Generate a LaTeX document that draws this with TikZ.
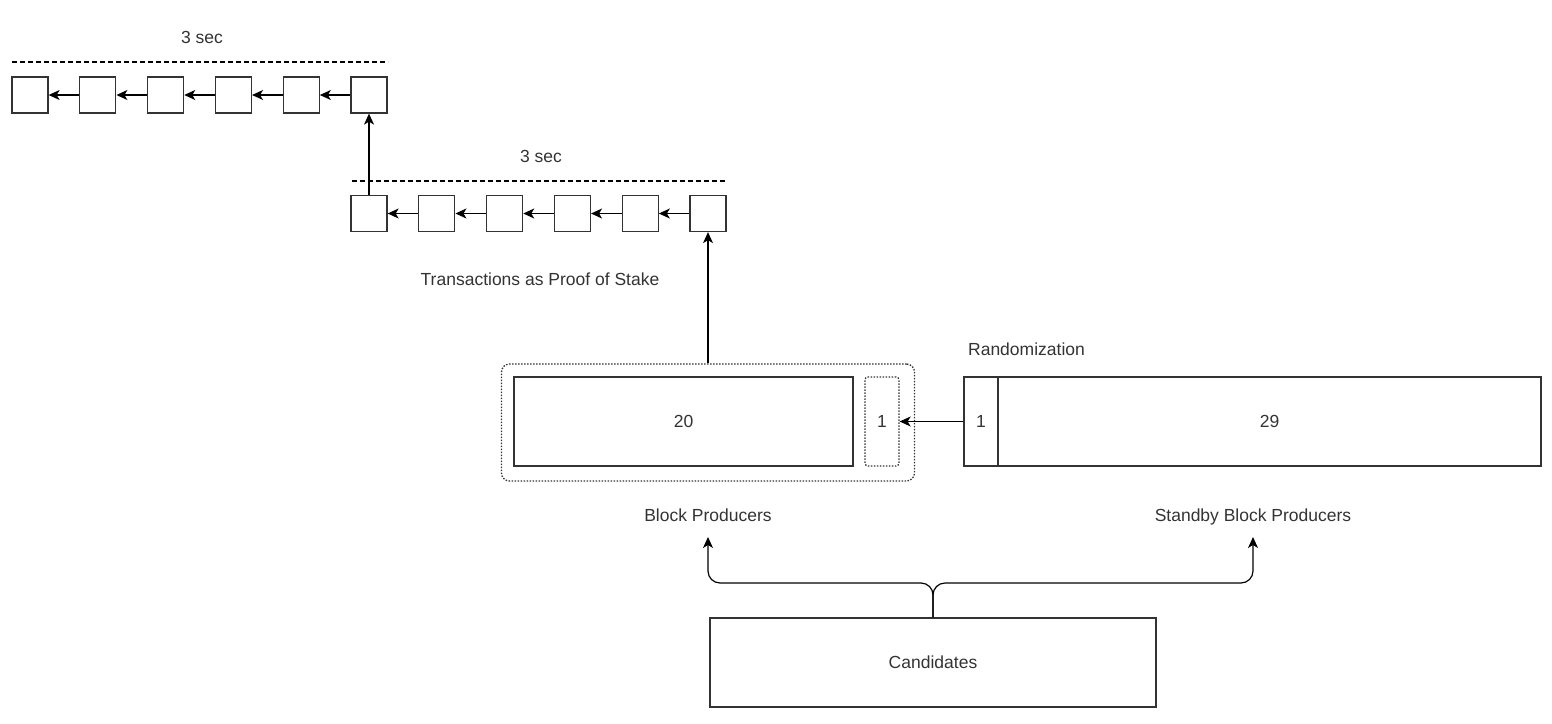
\documentclass[tikz,border=0pt]{standalone}
\usepackage{fontspec}
\setmainfont{Liberation Sans}
\usetikzlibrary{arrows.meta,positioning}

\tikzset{
  blk/.style={draw=black!80, line width=1.3pt, minimum width=36pt, minimum height=36pt, inner sep=0pt},
  slot/.style={draw=black!80, line width=1.3pt, minimum height=89pt, inner sep=0pt, text=black!80},
  dots/.style={line width=1.3pt, dash pattern=on 1.5pt off 1.5pt},
  lbl/.style={text=black!80, inner sep=0pt, anchor=base},
  link/.style={-{Stealth[length=11pt,width=10pt,inset=3pt]}, line width=1.2pt},
  timeline/.style={line width=1.2pt, dash pattern=on 5pt off 3pt},
}

\begin{document}
\begin{tikzpicture}[x=1pt, y=-1pt, font=\fontsize{17.5}{21}\selectfont]
  \useasboundingbox (0,0) rectangle (1552,723);

  % older chain
  \node[lbl] (secA) at (202,43) {3 sec};
  \draw[timeline] (12,62) -- (388,62);
  \foreach \i in {1,...,6}
    \node[blk] (a\i) at ({30+67.8*(\i-1)},95) {};
  \foreach \i [count=\j from 2] in {1,...,5}
    \draw[link] (a\j) -- (a\i);

  % newer chain
  \node[lbl] (secB) at (541,162) {3 sec};
  \draw[timeline] (352,181) -- (727,181);
  \foreach \i in {1,...,6}
    \node[blk] (b\i) at ({369+67.8*(\i-1)},213.5) {};
  \foreach \i [count=\j from 2] in {1,...,5}
    \draw[link] (b\j) -- (b\i);
  \draw[link] (b1) -- (a6);

  \node[lbl] (tx) at (540,285) {Transactions as Proof of Stake};

  % producers
  \node[draw=black!80, dots, rounded corners=8pt, minimum width=413pt,
        minimum height=117pt] (grp) at (708,422.5) {};
  \node[slot, minimum width=339pt] (bp20) at (683.5,421.5) {20};
  \node[slot, dots, rounded corners=3pt, minimum width=34pt] (bp1) at (882,421.5) {1};
  \draw[link] (grp.north) -- (b6.south);

  % standby producers
  \node[lbl] (rnd) at (1026.5,355) {Randomization};
  \node[slot, minimum width=34pt] (sb1) at (981,421.5) {1};
  \node[slot, minimum width=543pt] (sb29) at (1269.5,421.5) {29};
  \draw[link] (sb1) -- (bp1);

  \node[lbl] (bpl) at (708,521) {Block Producers};
  \node[lbl] (sbl) at (1253,521) {Standby Block Producers};

  % candidates split in two
  \node[slot, minimum width=446pt] (cand) at (933,662.5) {Candidates};
  \coordinate (fork) at (933,583);
  \draw[link, rounded corners=12pt] (cand.north) -- (fork) -| ([yshift=-16pt]bpl.base);
  \draw[link, rounded corners=12pt] (cand.north) -- (fork) -| ([yshift=-16pt]sbl.base);
\end{tikzpicture}
\end{document}
